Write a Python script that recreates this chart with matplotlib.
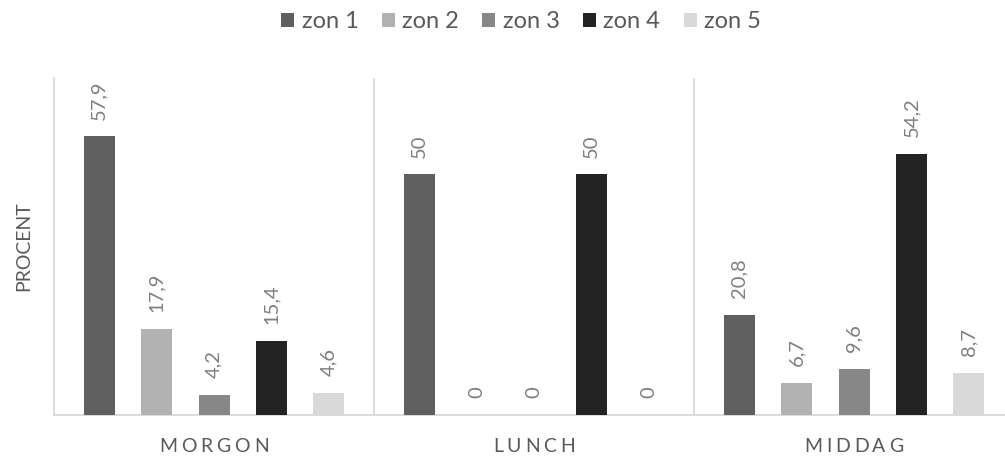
import matplotlib
matplotlib.use("Agg")
import matplotlib.pyplot as plt
from matplotlib.patches import Patch
from matplotlib import transforms
import numpy as np

plt.rcParams['font.family'] = ['Lato', 'DejaVu Sans']

categories = ["MORGON", "LUNCH", "MIDDAG"]
zones = ["zon 1", "zon 2", "zon 3", "zon 4", "zon 5"]
values = {
    "zon 1": [57.9, 50, 20.8],
    "zon 2": [17.9, 0, 6.7],
    "zon 3": [4.2, 0, 9.6],
    "zon 4": [15.4, 50, 54.2],
    "zon 5": [4.6, 0, 8.7],
}
colors = ["#5f5f5f", "#b2b2b2", "#878787", "#232323", "#d9d9d9"]
ylabel = "PROCENT"

W, H = 1005, 457
DPI = 100
fig = plt.figure(figsize=(W / DPI, H / DPI), dpi=DPI)
ax = fig.add_axes([54 / W, 1 - 415 / H, 960 / W, (415 - 78) / H])
ax.set_xlim(-0.5, 2.5)
ax.set_ylim(0, 70)

x = np.arange(len(categories))
step = 57.4 / 320
width = 31 / 320
label_color = "#7f7f7f"
text_color = "#595959"
for i, (zone, col) in enumerate(zip(zones, colors)):
    pos = x + (i - 2) * step
    bars = ax.bar(pos, values[zone], width=width, color=col, zorder=3, clip_on=False)
    for b, v in zip(bars, values[zone]):
        txt = f"{v:g}".replace(".", ",")
        ax.annotate(txt, (b.get_x() + b.get_width() / 2, b.get_height()),
                    xytext=(0, 12), textcoords="offset points",
                    rotation=90, ha="center", va="bottom",
                    fontsize=14.5, color=label_color, annotation_clip=False)

for sep in [0.5, 1.5]:
    ax.axvline(sep, color="#d9d9d9", lw=1.3, zorder=1)

for s in ["top", "right"]:
    ax.spines[s].set_visible(False)
for s in ["left", "bottom"]:
    ax.spines[s].set_color("#d9d9d9")
    ax.spines[s].set_linewidth(1.3)

ax.set_yticks([])
ax.set_xticks([])
ax.set_ylabel(ylabel, fontsize=14, color=text_color, labelpad=16)


def spaced_label(xc, text, tracking_px, y_px_below, size):
    """Draw text centred at data x with extra letter spacing, below the axis."""
    renderer = fig.canvas.get_renderer()
    widths = []
    for ch in text:
        t = fig.text(0, 0, ch, fontsize=size)
        widths.append(t.get_window_extent(renderer).width)
        t.remove()
    total = sum(widths) + tracking_px * (len(text) - 1)
    base = transforms.blended_transform_factory(ax.transData, ax.transAxes)
    cursor = -total / 2
    for ch, w in zip(text, widths):
        tr = transforms.offset_copy(base, fig=fig, x=cursor * 72 / DPI,
                                    y=-y_px_below * 72 / DPI, units="points")
        ax.text(xc, 0, ch, transform=tr, ha="left", va="center",
                fontsize=size, color=text_color, clip_on=False)
        cursor += w + tracking_px


for xc, cat in zip(x, categories):
    spaced_label(xc, cat, 3.8, 32, 14)

handles = [Patch(facecolor=c, edgecolor="none") for c in colors]
fig.legend(handles, zones, loc="center", bbox_to_anchor=(521 / W, 1 - 22 / H),
           ncol=5, frameon=False, fontsize=17, labelcolor=text_color,
           handlelength=0.55, handleheight=0.55, handletextpad=0.3, columnspacing=1.0)

fig.savefig("out.png", dpi=DPI)
